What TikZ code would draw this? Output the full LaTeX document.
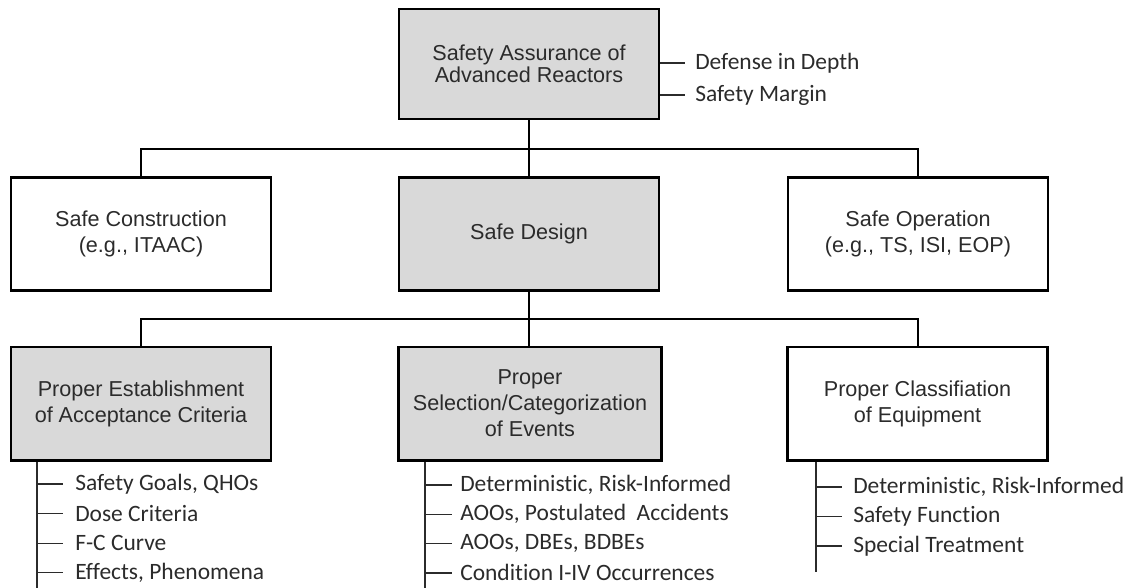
\documentclass[tikz,border=0pt]{standalone}
\usepackage{fontspec}
\usepackage{tikz}
\usetikzlibrary{calc}
\newfontfamily\boxfont{Liberation Sans}
\newfontfamily\itemfont[Ligatures=NoCommon]{Carlito}
\definecolor{boxgray}{HTML}{D9D9D9}
\definecolor{txtgray}{HTML}{2B2B2B}
\tikzset{
  box/.style={draw, line width=2pt, minimum width=195pt, minimum height=85pt,
    align=center, text=txtgray, inner sep=2pt,
    font={\boxfont\fontsize{16.2}{19.5}\selectfont}},
  greybox/.style={box, fill=boxgray},
  link/.style={line width=1.5pt},
  item/.style={anchor=west, inner sep=0pt, text=txtgray,
    font={\itemfont\fontsize{17.6}{20}\selectfont}},
  stem/.style={line width=0.9pt, draw=txtgray}
}

\begin{document}
\begin{tikzpicture}[x=0.75pt,y=-0.75pt]
  \useasboundingbox (0,0) rectangle (1134,588);

  % Boxes
  \node[greybox, minimum height=82.5pt, font={\boxfont\fontsize{16.2}{14.3}\selectfont}]
    (top) at (529,64) {Safety Assurance of\\Advanced Reactors};
  \node[box] (construction) at (141,234) {Safe Construction\\(e.g., ITAAC)};
  \node[greybox] (design) at (529,234) {Safe Design};
  \node[box] (operation) at (918,234) {Safe Operation\\(e.g., TS, ISI, EOP)};
  \node[greybox] (criteria) at (141,403.5) {Proper Establishment\\of Acceptance Criteria};
  \node[greybox, minimum width=197pt] (events) at (530,403.5)
    {Proper\\Selection/Categorization\\of Events};
  \node[box] (equipment) at (917.5,403.5) {Proper Classifiation\\of Equipment};

  % Tree links
  \coordinate (bar1) at (0,149);
  \coordinate (bar2) at (0,319);
  \draw[link] (top.south) -- (design.north);
  \draw[link] (construction.north) -- (construction.north |- bar1)
    -- (operation.north |- bar1) -- (operation.north);
  \draw[link] (design.south) -- (events.north -| design.south);
  \draw[link] (criteria.north) -- (criteria.north |- bar2)
    -- (equipment.north |- bar2) -- (equipment.north);

  % Principles beside the top box
  \node[item] (depth) at (695,63) {Defense in Depth};
  \node[item] (margin) at (695,95) {Safety Margin};
  \draw[stem] (depth.west -| top.east) -- ([xshift=-7.5pt]depth.west);
  \draw[stem] (margin.west -| top.east) -- ([xshift=-7.5pt]margin.west);

  % Lists under the bottom boxes
  \coordinate (cstem) at (37,588);
  \coordinate (estem) at (425,588);
  \coordinate (qstem) at (816,572);
  \draw[stem] (criteria.south -| cstem) -- (cstem);
  \draw[stem] (events.south -| estem) -- (estem);
  \draw[stem] (equipment.south -| qstem) -- (qstem);

  \foreach \t [count=\i from 0] in {{Safety Goals, QHOs},{Dose Criteria},
      {F-C Curve},{Effects, Phenomena}} {
    \node[item] (crit\i) at (75,{484+29.6*\i}) {\t};
    \draw[stem] (crit\i.west -| cstem) -- ([xshift=-9pt]crit\i.west);
  }
  \foreach \t [count=\i from 0] in {{Deterministic, Risk-Informed},
      {AOOs, Postulated\ \ Accidents},{AOOs, DBEs, BDBEs},
      {Condition I-IV Occurrences}} {
    \node[item] (evt\i) at (460,{485+29.3*\i}) {\t};
    \draw[stem] (evt\i.west -| estem) -- ([xshift=-6pt]evt\i.west);
  }
  \foreach \t [count=\i from 0] in {{Deterministic, Risk-Informed},
      {Safety Function},{Special Treatment}} {
    \node[item] (eq\i) at (853,{487+29.5*\i}) {\t};
    \draw[stem] (eq\i.west -| qstem) -- ([xshift=-8pt]eq\i.west);
  }
\end{tikzpicture}
\end{document}
